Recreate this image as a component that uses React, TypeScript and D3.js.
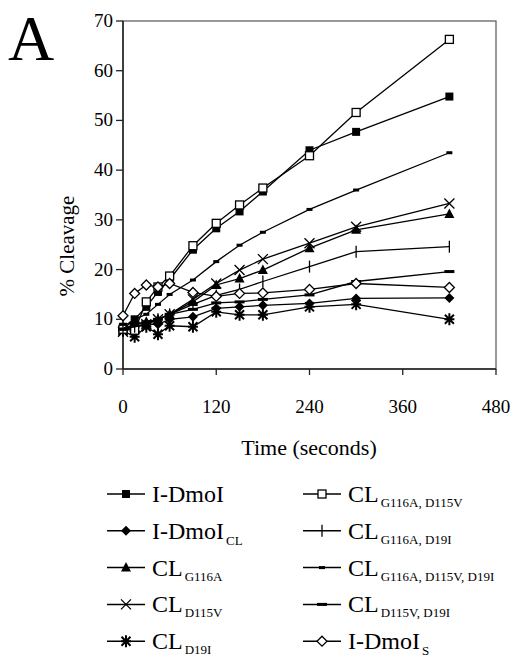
import React from 'react';
import * as d3 from 'd3';

// time points in seconds
const times = [0, 15, 30, 45, 60, 90, 120, 150, 180, 240, 300, 420];

// % cleavage per construct
const iDmoI = [8.5, 10, 12.5, 15.5, 18, 24, 28.3, 31.7, 35.7, 44, 47.7, 54.8];
const iDmoICL = [8, 8.5, 9, 9, 10, 10.5, 12.2, 12.5, 12.8, 13.2, 14.2, 14.3];
const clG116A = [8, 9, 9.5, 10, 11, 13.5, 16.9, 18.2, 19.9, 24.3, 28, 31.2];
const clD115V = [7.5, 8.5, 9, 10, 11, 14, 17.2, 19.9, 22.1, 25.3, 28.6, 33.3];
const clD19I = [7.7, 6.5, 8.5, 7, 8.7, 8.5, 11.5, 10.9, 10.9, 12.5, 13, 10];
const clG116AD115V = [8, 7.8, 13.5, 16.5, 18.7, 24.8, 29.3, 33, 36.4, 42.9, 51.6, 66.3];
const clG116AD19I = [8, 8.5, 9, 10, 11, 13, 14.8, 16, 17.6, 20.6, 23.6, 24.6];
const clTriple = [8, 10, 11, 13, 15, 17.9, 21.6, 24.9, 27.5, 32.1, 36, 43.5];
const clD115VD19I = [8, 9, 9.5, 10, 11, 12, 13.3, 13.5, 14, 14.9, 17.6, 19.6];
const iDmoIS = [10.7, 15.2, 16.9, 16.5, 17.2, 15.4, 14.6, 15.2, 15.3, 16, 17.2, 16.4];

const xTicks = [0, 120, 240, 360, 480];
const yTicks = [0, 10, 20, 30, 40, 50, 60, 70];

type Mk = 'sqFill' | 'diaFill' | 'tri' | 'x' | 'star' | 'sqOpen' | 'plus' | 'dash' | 'dashLong' | 'diaOpen';

const series: { name: string; sub?: string; marker: Mk; values: number[] }[] = [
    { name: 'I-DmoI', marker: 'sqFill', values: iDmoI },
    { name: 'I-DmoI', sub: 'CL', marker: 'diaFill', values: iDmoICL },
    { name: 'CL', sub: 'G116A', marker: 'tri', values: clG116A },
    { name: 'CL', sub: 'D115V', marker: 'x', values: clD115V },
    { name: 'CL', sub: 'D19I', marker: 'star', values: clD19I },
    { name: 'CL', sub: 'G116A, D115V', marker: 'sqOpen', values: clG116AD115V },
    { name: 'CL', sub: 'G116A, D19I', marker: 'plus', values: clG116AD19I },
    { name: 'CL', sub: 'G116A, D115V, D19I', marker: 'dash', values: clTriple },
    { name: 'CL', sub: 'D115V, D19I', marker: 'dashLong', values: clD115VD19I },
    { name: 'I-DmoI', sub: 'S', marker: 'diaOpen', values: iDmoIS },
];

const font = "'Liberation Serif', 'DejaVu Serif', serif";

const Marker = ({ type, x, y }: { type: Mk; x: number; y: number }) => {
    const s = 4;
    switch (type) {
        case 'sqFill':
            return <rect x={x - s} y={y - s} width={2 * s} height={2 * s} fill="#000" />;
        case 'sqOpen':
            return <rect x={x - s} y={y - s} width={2 * s} height={2 * s} fill="#fff" stroke="#000" strokeWidth={1.3} />;
        case 'diaFill':
            return <path d={`M${x},${y - 5}L${x + 5},${y}L${x},${y + 5}L${x - 5},${y}Z`} fill="#000" />;
        case 'diaOpen':
            return <path d={`M${x},${y - 5}L${x + 5},${y}L${x},${y + 5}L${x - 5},${y}Z`} fill="#fff" stroke="#000" strokeWidth={1.3} />;
        case 'tri':
            return <path d={`M${x},${y - 5.5}L${x + 5},${y + 4}L${x - 5},${y + 4}Z`} fill="#000" />;
        case 'x':
            return <path d={`M${x - 5},${y - 5}L${x + 5},${y + 5}M${x - 5},${y + 5}L${x + 5},${y - 5}`} stroke="#000" strokeWidth={1.3} />;
        case 'star':
            return <path d={`M${x - 4.5},${y - 4.5}L${x + 4.5},${y + 4.5}M${x - 4.5},${y + 4.5}L${x + 4.5},${y - 4.5}M${x},${y - 6}L${x},${y + 6}M${x - 5},${y}L${x + 5},${y}`} stroke="#000" strokeWidth={2} />;
        case 'plus':
            return <path d={`M${x},${y - 6}L${x},${y + 6}`} stroke="#000" strokeWidth={1.3} />;
        case 'dash':
            return <rect x={x - 3} y={y - 1.5} width={6} height={3} fill="#000" />;
        case 'dashLong':
            return <rect x={x - 5} y={y - 1.5} width={10} height={3} fill="#000" />;
    }
    return null;
};

const App = () => {
    const width = 513;
    const height = 660;
    const xScale = d3.scaleLinear().domain([0, 480]).range([123, 496]);
    const yScale = d3.scaleLinear().domain([0, 70]).range([369, 21]);
    const line = d3.line<[number, number]>()
        .x(d => xScale(d[0]))
        .y(d => yScale(d[1]));

    // legend layout
    const legendCols = [107, 303];
    const legendRow0 = 494;
    const legendStep = 36.8;

    return (
        <svg width={width} height={height} style={{ position: 'absolute', left: 0, top: 0, background: '#fff', fontFamily: font }}>
            <text x={8} y={60} fontSize={64}>A</text>

            {/* frame */}
            <rect x={xScale(0)} y={yScale(70)} width={xScale(480) - xScale(0)} height={yScale(0) - yScale(70)}
                fill="none" stroke="#555" strokeWidth={1.2} />
            <line x1={xScale(0)} x2={xScale(0)} y1={yScale(70)} y2={yScale(0)} stroke="#222" strokeWidth={1.5} />
            <line x1={xScale(0)} x2={xScale(480)} y1={yScale(0)} y2={yScale(0)} stroke="#222" strokeWidth={1.5} />

            {yTicks.map(t => (
                <g key={'y' + t}>
                    <line x1={xScale(0) - 7} x2={xScale(0)} y1={yScale(t)} y2={yScale(t)} stroke="#222" strokeWidth={1.3} />
                    <text x={113} y={yScale(t) + 6} fontSize={19} textAnchor="end">{t}</text>
                </g>
            ))}
            {xTicks.map(t => (
                <g key={'x' + t}>
                    <line x1={xScale(t)} x2={xScale(t)} y1={yScale(0)} y2={yScale(0) + 6} stroke="#222" strokeWidth={1.3} />
                    <text x={xScale(t)} y={413} fontSize={19} textAnchor="middle">{t}</text>
                </g>
            ))}

            <text x={309} y={455} fontSize={22} textAnchor="middle">Time (seconds)</text>
            <text transform="translate(74,246) rotate(-90)" fontSize={21} textAnchor="middle">% Cleavage</text>

            {/* series */}
            {series.map((s, i) => {
                const pts = times.map((t, j) => [t, s.values[j]] as [number, number]);
                return (
                    <g key={'s' + i}>
                        <path d={line(pts) || ''} fill="none" stroke="#000" strokeWidth={1.3} />
                        {pts.map((p, j) => <Marker key={j} type={s.marker} x={xScale(p[0])} y={yScale(p[1])} />)}
                    </g>
                );
            })}

            {/* legend */}
            {series.map((s, i) => {
                const col = Math.floor(i / 5);
                const row = i % 5;
                const lx = legendCols[col];
                const ly = legendRow0 + row * legendStep;
                return (
                    <g key={'l' + i}>
                        <line x1={lx} x2={lx + 38} y1={ly} y2={ly} stroke="#000" strokeWidth={1.5} />
                        <Marker type={s.marker} x={lx + 19} y={ly} />
                        <text x={lx + 45} y={ly + 8} fontSize={24}>
                            {s.name}
                            {s.sub && <tspan dx={2} dy={s.sub === 'CL' || s.sub === 'S' ? 6 : 5} fontSize={13}>{s.sub}</tspan>}
                        </text>
                    </g>
                );
            })}
        </svg>
    );
};

export default App;
